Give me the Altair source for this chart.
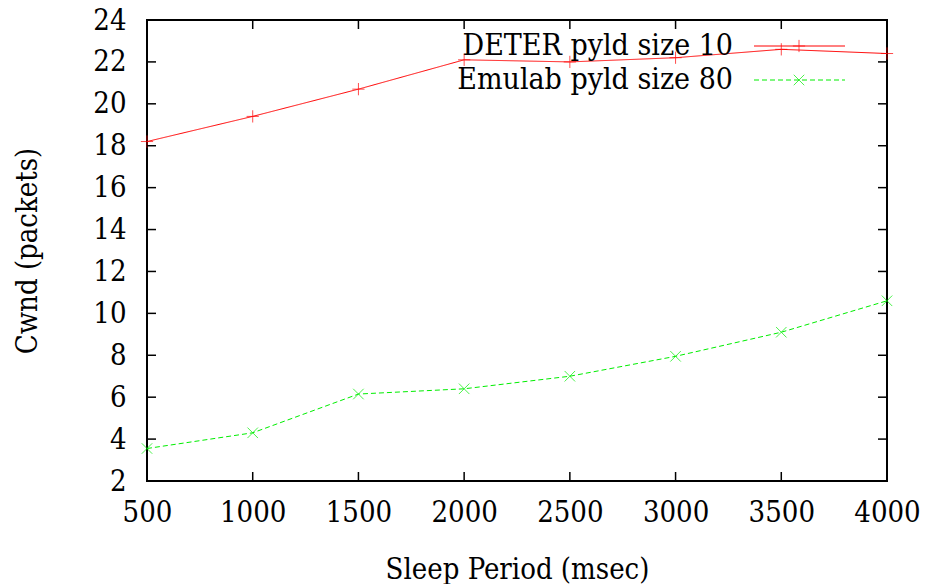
import altair as alt
import pandas as pd

# ---- data ----
sleep_ms = [500, 1000, 1500, 2000, 2500, 3000, 3500, 4000]
deter_cwnd = [18.2, 19.4, 20.7, 22.1, 22.0, 22.2, 22.6, 22.4]
emulab_cwnd = [3.55, 4.3, 6.15, 6.4, 7.0, 7.95, 9.1, 10.6]
series_names = ["DETER pyld size 10", "Emulab pyld size 80"]
series_colors = ["#ff0000", "#00ee00"]
x_ticks = [500, 1000, 1500, 2000, 2500, 3000, 3500, 4000]
y_ticks = [2, 4, 6, 8, 10, 12, 14, 16, 18, 20, 22, 24]

W, H = 740, 461
FONT = "DejaVu Serif Condensed, DejaVu Serif, serif"
PLUS = "M-1,0H1M0,-1V1"
CROSS = "M-1,-1L1,1M-1,1L1,-1"

df = pd.DataFrame(
    {
        "sleep": sleep_ms * 2,
        "cwnd": deter_cwnd + emulab_cwnd,
        "series": [series_names[0]] * len(sleep_ms) + [series_names[1]] * len(sleep_ms),
    }
)

xscale = alt.Scale(domain=[500, 4000], nice=False, zero=False)
yscale = alt.Scale(domain=[2, 24], nice=False, zero=False)
cscale = alt.Scale(domain=series_names, range=series_colors)

xaxis = alt.Axis(
    values=x_ticks, format="d", ticks=False, domain=False, grid=False,
    labelFont=FONT, labelFontSize=29, labelColor="black", labelPadding=17,
    labelFlush=False, labelOverlap=False,
    title="Sleep Period (msec)", titleFont=FONT, titleFontSize=29,
    titleFontWeight="normal", titleColor="black", titleBaseline="alphabetic",
    titleY=97,
)
yaxis = alt.Axis(
    values=y_ticks, format="d", ticks=False, domain=False, grid=False,
    labelFont=FONT, labelFontSize=29, labelColor="black", labelPadding=21,
    labelFlush=False, labelOverlap=False,
    title="Cwnd (packets)", titleFont=FONT, titleFontSize=29,
    titleFontWeight="normal", titleColor="black", titleBaseline="alphabetic",
    titleX=-111,
)

base = alt.Chart(df)

lines = base.mark_line(strokeWidth=1, clip=False).encode(
    x=alt.X("sleep:Q", scale=xscale, axis=xaxis),
    y=alt.Y("cwnd:Q", scale=yscale, axis=yaxis),
    color=alt.Color("series:N", scale=cscale, legend=None),
    strokeDash=alt.StrokeDash(
        "series:N",
        scale=alt.Scale(domain=series_names, range=[[1, 0], [5, 3]]),
        legend=None,
    ),
)

points = base.mark_point(filled=False, strokeWidth=1, clip=False).encode(
    x=alt.X("sleep:Q", scale=xscale),
    y=alt.Y("cwnd:Q", scale=yscale),
    color=alt.Color("series:N", scale=cscale, legend=None),
    shape=alt.Shape("series:N", scale=alt.Scale(domain=series_names, range=[PLUS, CROSS]), legend=None),
    size=alt.Size("series:N", scale=alt.Scale(domain=series_names, range=[150, 110]), legend=None),
)

# inward ticks on all four sides
xt = pd.DataFrame({"t": x_ticks})
yt = pd.DataFrame({"t": y_ticks})
tick_style = dict(color="black", strokeWidth=1.5)
xt_bottom = alt.Chart(xt).mark_rule(**tick_style).encode(
    x=alt.X("t:Q", scale=xscale), y=alt.value(H), y2=alt.value(H - 9))
xt_top = alt.Chart(xt).mark_rule(**tick_style).encode(
    x=alt.X("t:Q", scale=xscale), y=alt.value(0), y2=alt.value(9))
yt_left = alt.Chart(yt).mark_rule(**tick_style).encode(
    y=alt.Y("t:Q", scale=yscale), x=alt.value(0), x2=alt.value(9))
yt_right = alt.Chart(yt).mark_rule(**tick_style).encode(
    y=alt.Y("t:Q", scale=yscale), x=alt.value(W), x2=alt.value(W - 9))

# legend (gnuplot style: label on the left, sample on the right)
legend_layers = []
legend_rows = [(26, PLUS, 150, [1, 0]), (60, CROSS, 110, [5, 3])]
for i, name in enumerate(series_names):
    ly, shp, sz, dash = legend_rows[i]
    one = pd.DataFrame({"series": [name]})
    c = series_colors[i]
    legend_layers.append(
        alt.Chart(one).mark_text(align="right", baseline="middle", font=FONT, fontSize=30, color="black").encode(
            text="series:N", x=alt.value(586), y=alt.value(ly))
    )
    legend_layers.append(
        alt.Chart(one).mark_rule(color=c, strokeWidth=1, strokeDash=dash).encode(
            x=alt.value(607), x2=alt.value(698), y=alt.value(ly))
    )
    legend_layers.append(
        alt.Chart(one).mark_point(shape=shp, size=sz, filled=False, strokeWidth=1, color=c).encode(
            x=alt.value(652), y=alt.value(ly))
    )

chart = (
    alt.layer(lines, points, xt_bottom, xt_top, yt_left, yt_right, *legend_layers)
    .properties(
        width=W, height=H,
        autosize=alt.AutoSizeParams(type="none"),
        padding={"left": 147, "top": 20, "right": 41, "bottom": 103},
        background="white",
    )
    .configure_view(stroke="black", strokeWidth=2)
)

chart.save("out.html", embed_options={"renderer": "svg", "actions": False})
